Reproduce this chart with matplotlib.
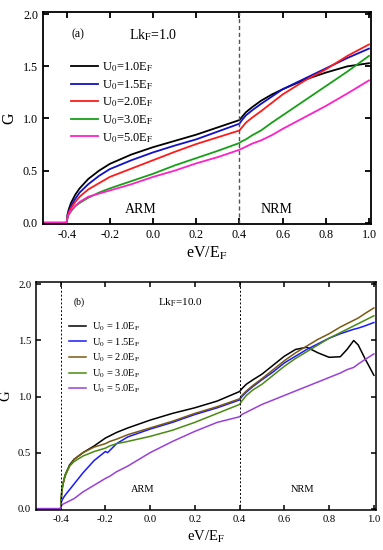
import matplotlib
matplotlib.use("Agg")
import matplotlib.pyplot as plt

plt.rcParams['font.family'] = ['Liberation Serif', 'DejaVu Serif']
plt.rcParams['mathtext.fontset'] = 'stix'

# ---------------- panel (a): Lk_F = 1.0 ----------------
xa = [-0.5, -0.4, -0.395, -0.39, -0.38, -0.36, -0.34, -0.3, -0.25, -0.2, -0.1, 0.0, 0.1, 0.2, 0.3, 0.4,
      0.41, 0.43, 0.46, 0.5, 0.55, 0.6, 0.7, 0.8, 0.9, 1.0]
a_u10 = [0, 0, 0.09, 0.13, 0.19, 0.27, 0.33, 0.42, 0.50, 0.565, 0.655, 0.725, 0.785, 0.845, 0.915, 0.985,
         1.01, 1.06, 1.11, 1.17, 1.23, 1.28, 1.37, 1.44, 1.50, 1.53]
a_u15 = [0, 0, 0.08, 0.11, 0.16, 0.23, 0.29, 0.37, 0.45, 0.515, 0.60, 0.675, 0.74, 0.80, 0.875, 0.95,
         0.98, 1.03, 1.08, 1.14, 1.21, 1.28, 1.38, 1.48, 1.58, 1.67]
a_u20 = [0, 0, 0.07, 0.10, 0.14, 0.20, 0.25, 0.32, 0.38, 0.44, 0.52, 0.60, 0.68, 0.755, 0.82, 0.885,
         0.91, 0.96, 1.01, 1.07, 1.15, 1.23, 1.36, 1.47, 1.60, 1.71]
a_u30 = [0, 0, 0.06, 0.08, 0.11, 0.16, 0.19, 0.24, 0.29, 0.33, 0.40, 0.47, 0.55, 0.62, 0.69, 0.765,
         0.78, 0.80, 0.84, 0.885, 0.96, 1.03, 1.17, 1.31, 1.45, 1.60]
a_u50 = [0, 0, 0.06, 0.08, 0.12, 0.16, 0.20, 0.25, 0.28, 0.31, 0.37, 0.44, 0.50, 0.57, 0.63, 0.70,
         0.71, 0.73, 0.76, 0.79, 0.84, 0.90, 1.01, 1.12, 1.24, 1.365]

# ---------------- panel (b): Lk_F = 10.0 ----------------
xb = [-0.5, -0.4, -0.398, -0.395, -0.39, -0.38, -0.36, -0.34, -0.3, -0.25, -0.2, -0.19, -0.18, -0.15, -0.1, 0.0,
      0.1, 0.2, 0.3, 0.4, 0.41, 0.43, 0.46, 0.5, 0.55, 0.6, 0.65, 0.7, 0.75, 0.8, 0.85, 0.88, 0.91,
      0.93, 0.96, 1.0]
b_u10 = [0, 0, 0.05, 0.15, 0.22, 0.30, 0.39, 0.44, 0.50, 0.56, 0.63, 0.64, 0.65, 0.68, 0.72, 0.79,
         0.85, 0.90, 0.96, 1.045, 1.07, 1.11, 1.15, 1.20, 1.28, 1.36, 1.42, 1.44, 1.39, 1.35, 1.355, 1.42, 1.50,
         1.46, 1.34, 1.19]
b_u15 = [0, 0, 0.04, 0.07, 0.09, 0.12, 0.17, 0.22, 0.32, 0.43, 0.51, 0.50, 0.52, 0.58, 0.64, 0.71,
         0.77, 0.84, 0.90, 0.97, 1.00, 1.04, 1.09, 1.15, 1.22, 1.30, 1.36, 1.42, 1.47, 1.52, 1.56, 1.58, 1.60,
         1.61, 1.63, 1.66]
b_u20 = [0, 0, 0.06, 0.15, 0.21, 0.29, 0.38, 0.44, 0.50, 0.55, 0.58, 0.59, 0.60, 0.62, 0.66, 0.72,
         0.78, 0.85, 0.91, 0.98, 1.01, 1.05, 1.10, 1.16, 1.24, 1.32, 1.39, 1.45, 1.51, 1.56, 1.62, 1.65, 1.68,
         1.70, 1.74, 1.79]
b_u30 = [0, 0, 0.07, 0.16, 0.22, 0.30, 0.38, 0.42, 0.47, 0.51, 0.54, 0.55, 0.56, 0.58, 0.60, 0.645,
         0.70, 0.77, 0.85, 0.93, 0.96, 1.01, 1.06, 1.11, 1.19, 1.27, 1.34, 1.40, 1.46, 1.52, 1.57, 1.60, 1.63,
         1.65, 1.68, 1.72]
b_u50 = [0, 0, 0.02, 0.03, 0.04, 0.05, 0.07, 0.09, 0.15, 0.21, 0.27, 0.28, 0.29, 0.33, 0.38, 0.50,
         0.60, 0.69, 0.77, 0.82, 0.84, 0.86, 0.89, 0.93, 0.97, 1.01, 1.05, 1.09, 1.13, 1.17, 1.21, 1.24, 1.26,
         1.29, 1.33, 1.38]

labels_a = [r'U$_0$=1.0E$_\mathrm{F}$', r'U$_0$=1.5E$_\mathrm{F}$', r'U$_0$=2.0E$_\mathrm{F}$',
            r'U$_0$=3.0E$_\mathrm{F}$', r'U$_0$=5.0E$_\mathrm{F}$']
labels_b = [r'U$_0$ = 1.0E$_\mathrm{F}$', r'U$_0$ = 1.5E$_\mathrm{F}$', r'U$_0$ = 2.0E$_\mathrm{F}$',
            r'U$_0$ = 3.0E$_\mathrm{F}$', r'U$_0$ = 5.0E$_\mathrm{F}$']
colors_a = ['#000000', '#1010c8', '#ff1a1a', '#17a017', '#ff20c8']
colors_b = ['#000000', '#1a1aff', '#7a5a10', '#4a8a10', '#9a40d8']
xticks = [-0.4, -0.2, 0.0, 0.2, 0.4, 0.6, 0.8, 1.0]
yticks = [0.0, 0.5, 1.0, 1.5, 2.0]

fig = plt.figure(figsize=(3.83, 5.5), dpi=100)
axa = fig.add_axes([0.112, 0.593, 0.857, 0.385])
axb = fig.add_axes([0.094, 0.073, 0.888, 0.414])


def style(ax, lw, ls, lab, tl):
    ax.set_xlim(-0.51, 1.01)
    ax.set_ylim(-0.01, 2.02)
    ax.set_xticks(xticks)
    ax.set_yticks(yticks)
    ax.set_xticklabels([f'{t:.1f}' for t in xticks])
    ax.set_yticklabels([f'{t:.1f}' for t in yticks])
    ax.tick_params(direction='in', top=True, right=True, labelsize=ls, length=tl, width=lw)
    for s in ax.spines.values():
        s.set_linewidth(lw)
    ax.set_xlabel(r'eV/E$_\mathrm{F}$', fontsize=lab)
    ax.set_ylabel('G', fontsize=lab)


# panel (a)
for ys, c, lab in zip([a_u10, a_u15, a_u20, a_u30, a_u50], colors_a, labels_a):
    axa.plot(xa, ys, color=c, lw=1.3, label=lab)
axa.axvline(0.4, color='#555555', lw=1.0, ls=(0, (3, 2)))
style(axa, 1.3, 8.7, 11.5, 4)
axa.text(-0.377, 1.81, '(a)', fontsize=8.5, va='center')
axa.text(0.0, 1.80, r'Lk$_\mathrm{F}$=1.0', fontsize=10, va='center', ha='center')
axa.text(-0.056, 0.13, 'ARM', fontsize=10, ha='center', va='center')
axa.text(0.57, 0.13, 'NRM', fontsize=10, ha='center', va='center')
axa.legend(loc='upper left', bbox_to_anchor=(0.07, 0.795), frameon=False, fontsize=9,
           handlelength=2.2, handletextpad=0.3, labelspacing=0.3, borderaxespad=0)
axa.xaxis.labelpad = 3

# panel (b)
for ys, c, lab in zip([b_u10, b_u15, b_u20, b_u30, b_u50], colors_b, labels_b):
    axb.plot(xb, ys, color=c, lw=1.1, label=lab)
axb.axvline(-0.4, color='black', lw=0.7, ls=(0, (2, 2)))
axb.axvline(0.4, color='black', lw=0.7, ls=(0, (2, 2)))
style(axb, 1.1, 7.7, 10.5, 3.5)
axb.text(-0.34, 1.84, '(b)', fontsize=7, va='center')
axb.text(0.136, 1.84, r'Lk$_\mathrm{F}$=10.0', fontsize=8, va='center', ha='center')
axb.text(-0.035, 0.17, 'ARM', fontsize=7.5, ha='center', va='center')
axb.text(0.68, 0.17, 'NRM', fontsize=7.5, ha='center', va='center')
axb.legend(loc='upper left', bbox_to_anchor=(0.085, 0.85), frameon=False, fontsize=7.5,
           handlelength=1.6, handletextpad=0.6, labelspacing=0.3, borderaxespad=0)

fig.savefig('out.png', dpi=100)
